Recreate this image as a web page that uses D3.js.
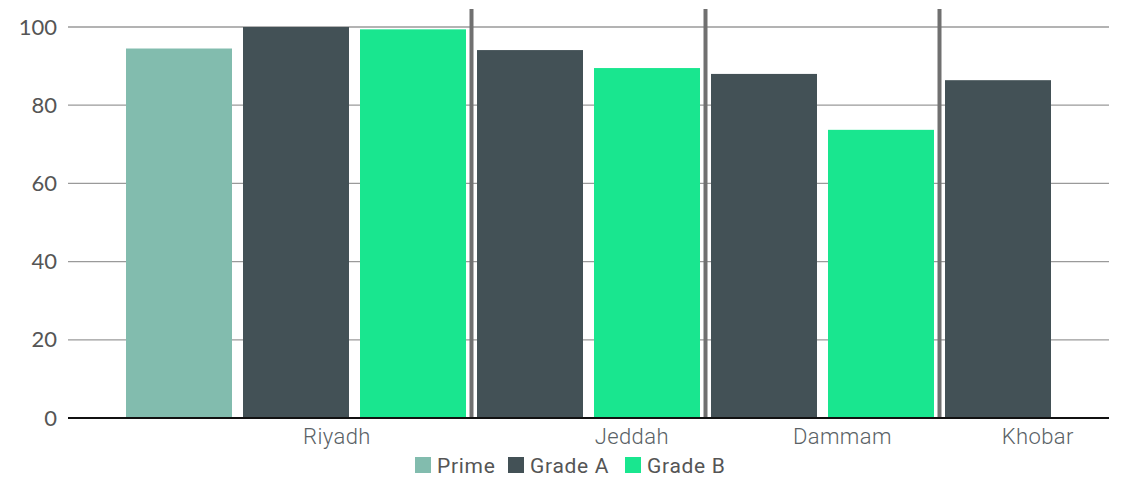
<!DOCTYPE html>
<html>
<head>
<meta charset="utf-8">
<script src="https://cdn.jsdelivr.net/npm/d3@7"></script>
<style>
  body { margin: 0; background: #fff; }
  text { font-family: Roboto, "Open Sans", sans-serif; }
</style>
</head>
<body>
<svg id="chart" width="1140" height="477"></svg>
<script>
const cities = ['Riyadh', 'Jeddah', 'Dammam', 'Khobar'];
const seriesNames = ['Prime', 'Grade A', 'Grade B'];
const prime = [94.5, null, null, null];
const gradeA = [100, 94.1, 88.0, 86.4];
const gradeB = [99.4, 89.5, 73.7, null];
const yTicks = [0, 20, 40, 60, 80, 100];

const COLORS = { 'Prime': '#82bcae', 'Grade A': '#435156', 'Grade B': '#19e68f' };
// where each city label sits, in bar-slot units (as in the reference)
const LABEL_AT = [1.35, 3.87, 5.67, 7.34];

const PLOT = { left: 68, right: 1109, top: 27, bottom: 418 };

// one slot per bar that exists, grouped by city
const bySeries = { 'Prime': prime, 'Grade A': gradeA, 'Grade B': gradeB };
const slots = [];
const groupEnds = [];
cities.forEach((city, ci) => {
  seriesNames.forEach(s => {
    const v = bySeries[s][ci];
    if (v != null) slots.push({ city, series: s, value: v, i: slots.length });
  });
  groupEnds.push(slots.length);
});

const svg = d3.select('#chart');

const x = d3.scaleBand()
  .domain(slots.map(d => d.i))
  .range([120.5, 1056.5])
  .paddingInner(11 / 117)
  .paddingOuter(5.5 / 117);

const y = d3.scaleLinear().domain([0, 100]).range([PLOT.bottom, PLOT.top]);

// gridlines
svg.append('g')
  .selectAll('line')
  .data(yTicks.filter(t => t > 0))
  .enter()
.append('line')
  .attr('x1', PLOT.left).attr('x2', PLOT.right)
  .attr('y1', d => y(d)).attr('y2', d => y(d))
  .attr('stroke', '#9a9a9a')
  .attr('stroke-width', 1.3);

// y labels
const yAxis = svg.append('g')
  .attr('transform', `translate(${PLOT.left - 11},0)`)
  .call(d3.axisLeft(y).tickValues(yTicks).tickSize(0).tickPadding(0));
yAxis.select('.domain').remove();
yAxis.selectAll('text')
  .attr('font-size', 22)
  .attr('fill', '#555')
  .style('font-family', 'Lato, Roboto, sans-serif');

// bars
svg.append('g')
  .selectAll('rect')
  .data(slots)
  .enter()
.append('rect')
  .attr('x', d => x(d.i))
  .attr('y', d => y(d.value))
  .attr('width', x.bandwidth())
  .attr('height', d => y(0) - y(d.value))
  .attr('fill', d => COLORS[d.series]);

// group separators
const step = x.step();
svg.append('g')
  .selectAll('line')
  .data(groupEnds.slice(0, -1))
  .enter()
.append('line')
  .attr('x1', d => x(d) - (step - x.bandwidth()) / 2)
  .attr('x2', d => x(d) - (step - x.bandwidth()) / 2)
  .attr('y1', 9)
  .attr('y2', PLOT.bottom)
  .attr('stroke', '#707070')
  .attr('stroke-width', 4);

// baseline
svg.append('line')
  .attr('x1', PLOT.left).attr('x2', PLOT.right)
  .attr('y1', y(0)).attr('y2', y(0))
  .attr('stroke', '#111')
  .attr('stroke-width', 2);

// category labels
const slotCenter = d3.scaleLinear()
  .domain([0, 1])
  .range([x(0) + x.bandwidth() / 2, x(1) + x.bandwidth() / 2]);
svg.append('g')
  .selectAll('text')
  .data(cities)
  .enter()
.append('text')
  .attr('x', (d, i) => slotCenter(LABEL_AT[i]))
  .attr('y', 444)
  .attr('text-anchor', 'middle')
  .attr('font-size', 22)
  .attr('font-weight', 300)
  .attr('letter-spacing', 0.4)
  .attr('fill', '#5a6266')
  .text(d => d);

// legend
const legendX = [415, 508, 625];
const legend = svg.append('g')
  .selectAll('g')
  .data(seriesNames)
  .enter()
.append('g')
  .attr('transform', (d, i) => `translate(${legendX[i]},457)`);
legend.append('rect')
  .attr('width', 16).attr('height', 16)
  .attr('fill', d => COLORS[d]);
legend.append('text')
  .attr('x', 22).attr('y', 15.5)
  .attr('font-size', 21)
  .attr('letter-spacing', 0.7)
  .attr('fill', '#555')
  .text(d => d);
</script>
</body>
</html>
